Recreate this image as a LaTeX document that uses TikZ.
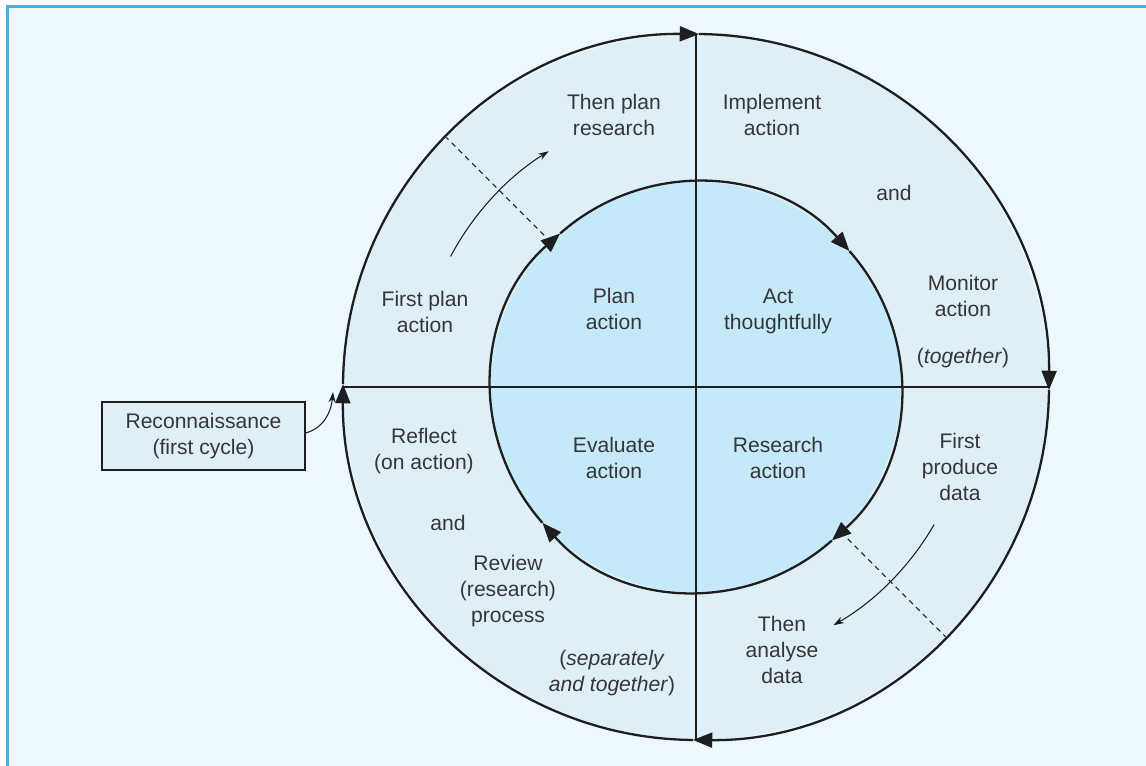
\documentclass[tikz,border=0pt]{standalone}
\usepackage{fontspec}
\setmainfont{Liberation Sans}
\usetikzlibrary{arrows.meta}
\definecolor{page}{HTML}{ECF8FE}
\definecolor{frame}{HTML}{4AAEEA}
\definecolor{ring}{HTML}{DFEFF8}
\definecolor{core}{HTML}{C6E9FA}
\definecolor{ink}{HTML}{1E1E1E}
\definecolor{label}{HTML}{363636}
\tikzset{
  axis/.style={line width=0.6pt, draw=ink},
  turn/.style={-{Triangle[length=11pt,width=8.5pt]}, line width=1.3pt, draw=ink},
  drift/.style={-{Stealth[length=6pt,width=4pt]}, line width=0.6pt, draw=ink},
  cutline/.style={dash pattern=on 3pt off 2.5pt, line width=0.6pt, draw=ink},
  txt/.style={align=center, text=label, font=\fontsize{12}{14.8}\selectfont, inner sep=0pt},
  recbox/.style={draw=ink, line width=0.6pt, fill=ring, minimum width=4.06cm,
    minimum height=1.36cm, align=center, text=label, font=\fontsize{12}{14.8}\selectfont}
}

\begin{document}
\begin{tikzpicture}[x=0.02cm, y=0.02cm]
  % canvas in px, origin at the centre of the circles
  \useasboundingbox (-696,-378) rectangle (450,387);
  \fill[white] (-696,-378) rectangle (450,387);
  \fill[page] (-688.5,-390) rectangle (460,380.5);
  \draw[frame, line width=0.05cm] (-688.5,-390) -- (-688.5,380.5) -- (460,380.5);

  % outer and inner cycle
  \coordinate (C) at (0,0);
  \fill[ring] (C) circle[radius=353];
  \fill[core] (C) circle[radius=205];
  \draw[axis] (90:353) -- (-90:353);
  \draw[axis] (180:353) -- (0:353);

  % first / then dividers
  \draw[cutline] (135:205) -- (135:353);
  \draw[cutline] (-45:205) -- (-45:353);

  % quarter arcs, each ending in a clockwise head
  \foreach \a in {90,0,-90,-180}
    \draw[turn] ({\a+89.5}:353) arc[start angle=\a+89.5, end angle=\a-0.5, radius=353];
  \foreach \a in {135,45,-45,-135}
    \draw[turn] ({\a+86.5}:205) arc[start angle=\a+86.5, end angle=\a-3.5, radius=205];

  \draw[drift] (152:278) arc[start angle=152, end angle=122, radius=278];
  \draw[drift] (-30:275) arc[start angle=-30, end angle=-60, radius=275];

  % inner quarters
  \node[txt] (plan)     at (-82,78)  {Plan\\action};
  \node[txt] (act)      at (82,76)   {Act\\thoughtfully};
  \node[txt] (evaluate) at (-82,-71) {Evaluate\\action};
  \node[txt] (research) at (82,-71)  {Research\\action};

  % outer ring
  \node[txt] (thenplan)  at (-82,272)  {Then plan\\research};
  \node[txt] (firstplan) at (-271,75)  {First plan\\action};
  \node[txt] (implement) at (76,272)   {Implement\\action};
  \node[txt] (and1)      at (198,194)  {and};
  \node[txt] (monitor)   at (267,91)   {Monitor\\action};
  \node[txt] (together)  at (267,29)   {(\textit{together})};
  \node[txt] (produce)   at (264,-80)  {First\\produce\\data};
  \node[txt] (analyse)   at (86,-263)  {Then\\analyse\\data};
  \node[txt] (reflect)   at (-272,-64) {Reflect\\(on action)};
  \node[txt] (and2)      at (-248,-136) {and};
  \node[txt] (review)    at (-188,-204) {Review\\(research)\\process};
  \node[txt] (separate)  at (-84,-286) {(\textit{separately}\\\textit{and together})};

  % way in
  \node[recbox] (recon) at (-492.5,-49) {Reconnaissance\\(first cycle)};
  \coordinate (reconend) at (-363,-5);
  \draw[drift] ([yshift=0.06cm]recon.east) to[out=15, in=-95] (reconend);
\end{tikzpicture}
\end{document}
